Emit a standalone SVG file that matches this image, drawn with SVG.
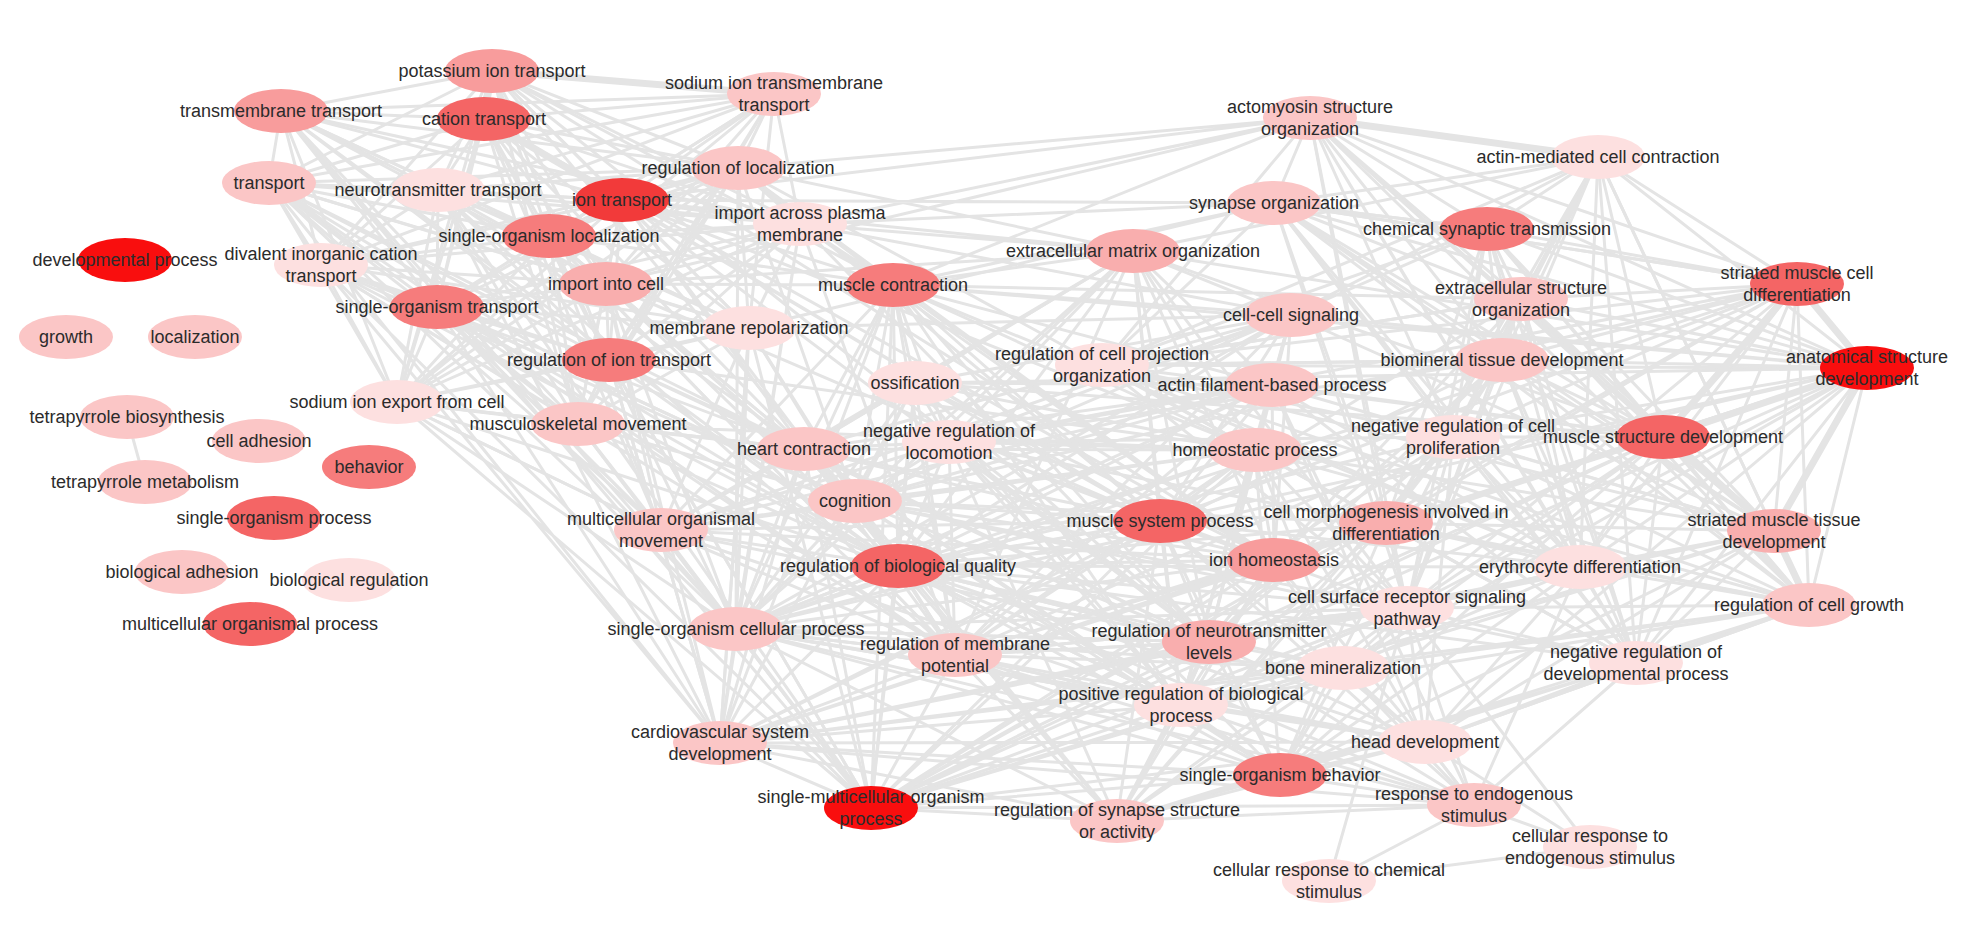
<svg xmlns="http://www.w3.org/2000/svg" width="1970" height="932" viewBox="0 0 1970 932">
<style>
.e{fill:none;stroke:#e4e4e4;stroke-width:3;stroke-linejoin:round;stroke-linecap:round}
.ew{fill:none;stroke:#e4e4e4;stroke-width:7;stroke-linecap:round}
text{font-family:"Liberation Sans",Arial,Helvetica,sans-serif;font-size:18px;fill:#2b2b2b;text-anchor:middle}
.t1{fill:#f90e0e}.t2{fill:#f23a3a}.t3{fill:#f46565}.t4{fill:#f67c7c}.t5{fill:#f89c9c}.t5b{fill:#f9aeae}.t6{fill:#fbc6c6}.t7{fill:#fde0e0}
</style>
<rect width="1970" height="932" fill="#ffffff"/>
<g id="edges">
<path class="e" d="M281 111 492 71 484 119 774 94 738 168 800 224 622 200 438 190 549 236 606 284 749 328 609 360 578 424 397 402 437 307 321 265 269 183 281 111"/>
<path class="e" d="M281 111 484 119 738 168 622 200 549 236 749 328 578 424 437 307 269 183 492 71 774 94 800 224 438 190 606 284 609 360 397 402 321 265 281 111"/>
<path class="e" d="M281 111 774 94 622 200 606 284 578 424 321 265 492 71 738 168 438 190 749 328 397 402 269 183 484 119 800 224 549 236 609 360 437 307 281 111"/>
<path class="e" d="M281 111 738 168 549 236 578 424 269 183 774 94 438 190 609 360 321 265 484 119 622 200 749 328 437 307 492 71 800 224 606 284 397 402 281 111"/>
<path class="e" d="M281 111 800 224 749 328 321 265 774 94 549 236 397 402 492 71 622 200 609 360 269 183 738 168 606 284 437 307 484 119 438 190 578 424 281 111"/>
<path class="e" d="M281 111 622 200 578 424 492 71 438 190 397 402 484 119 549 236 437 307 774 94 606 284 321 265 738 168 749 328 269 183 800 224 609 360 281 111"/>
<path class="e" d="M281 111 438 190 437 307 738 168 609 360 492 71 549 236 321 265 800 224 578 424 484 119 606 284 269 183 622 200 397 402 774 94 749 328 281 111"/>
<path class="e" d="M281 111 549 236 269 183 438 190 321 265 622 200 437 307 800 224 397 402 738 168 578 424 774 94 609 360 484 119 749 328 492 71 606 284 281 111"/>
<path class="e" d="M893 285 1133 251 1291 315 1272 385 1255 450 1274 560 1209 642 1181 705 955 655 736 629 661 530 804 449 915 383 949 442 855 501 898 566 1160 521 893 285"/>
<path class="e" d="M893 285 1291 315 1255 450 1209 642 955 655 661 530 915 383 855 501 1160 521 1133 251 1272 385 1274 560 1181 705 736 629 804 449 949 442 898 566 893 285"/>
<path class="e" d="M893 285 1272 385 1209 642 736 629 915 383 898 566 1133 251 1255 450 1181 705 661 530 949 442 1160 521 1291 315 1274 560 955 655 804 449 855 501 893 285"/>
<path class="e" d="M893 285 1255 450 955 655 915 383 1160 521 1272 385 1181 705 804 449 898 566 1291 315 1209 642 661 530 855 501 1133 251 1274 560 736 629 949 442 893 285"/>
<path class="e" d="M893 285 1274 560 661 530 898 566 1272 385 955 655 949 442 1133 251 1209 642 804 449 1160 521 1255 450 736 629 855 501 1291 315 1181 705 915 383 893 285"/>
<path class="e" d="M893 285 1209 642 915 383 1133 251 1181 705 949 442 1291 315 955 655 855 501 1272 385 736 629 898 566 1255 450 661 530 1160 521 1274 560 804 449 893 285"/>
<path class="e" d="M893 285 1181 705 855 501 1255 450 804 449 1133 251 955 655 898 566 1274 560 915 383 1291 315 736 629 1160 521 1209 642 949 442 1272 385 661 530 893 285"/>
<path class="e" d="M893 285 955 655 1160 521 1181 705 898 566 1209 642 855 501 1274 560 949 442 1255 450 915 383 1272 385 804 449 1291 315 661 530 1133 251 736 629 893 285"/>
<path class="e" d="M1310 118 1598 157 1487 229 1797 284 1867 368 1663 437 1774 531 1809 605 1636 663 1580 567 1407 608 1386 523 1453 437 1502 360 1521 299 1274 203 1102 365 1310 118"/>
<path class="e" d="M1310 118 1487 229 1867 368 1774 531 1636 663 1407 608 1453 437 1521 299 1102 365 1598 157 1797 284 1663 437 1809 605 1580 567 1386 523 1502 360 1274 203 1310 118"/>
<path class="e" d="M1310 118 1797 284 1774 531 1580 567 1453 437 1274 203 1598 157 1867 368 1809 605 1407 608 1502 360 1102 365 1487 229 1663 437 1636 663 1386 523 1521 299 1310 118"/>
<path class="e" d="M1310 118 1867 368 1636 663 1453 437 1102 365 1797 284 1809 605 1386 523 1274 203 1487 229 1774 531 1407 608 1521 299 1598 157 1663 437 1580 567 1502 360 1310 118"/>
<path class="e" d="M1310 118 1663 437 1407 608 1274 203 1797 284 1636 663 1502 360 1598 157 1774 531 1386 523 1102 365 1867 368 1580 567 1521 299 1487 229 1809 605 1453 437 1310 118"/>
<path class="e" d="M1310 118 1774 531 1453 437 1598 157 1809 605 1502 360 1487 229 1636 663 1521 299 1797 284 1580 567 1274 203 1867 368 1407 608 1102 365 1663 437 1386 523 1310 118"/>
<path class="e" d="M1310 118 1809 605 1521 299 1867 368 1386 523 1598 157 1636 663 1274 203 1663 437 1453 437 1487 229 1580 567 1102 365 1774 531 1502 360 1797 284 1407 608 1310 118"/>
<path class="e" d="M1310 118 1636 663 1102 365 1809 605 1274 203 1774 531 1521 299 1663 437 1502 360 1867 368 1453 437 1797 284 1386 523 1487 229 1407 608 1598 157 1580 567 1310 118"/>
<path class="e" d="M720 743 871 808 1117 821 1280 775 1425 742 1474 805 1343 668 1407 608 1209 642 1181 705 955 655 736 629 898 566 720 743"/>
<path class="e" d="M720 743 1117 821 1425 742 1343 668 1209 642 955 655 898 566 871 808 1280 775 1474 805 1407 608 1181 705 736 629 720 743"/>
<path class="e" d="M720 743 1280 775 1343 668 1181 705 898 566 1117 821 1474 805 1209 642 736 629 871 808 1425 742 1407 608 955 655 720 743"/>
<path class="e" d="M720 743 1425 742 1209 642 898 566 1280 775 1407 608 736 629 1117 821 1343 668 955 655 871 808 1474 805 1181 705 720 743"/>
<path class="e" d="M720 743 1474 805 955 655 1117 821 1407 608 898 566 1425 742 1181 705 871 808 1343 668 736 629 1280 775 1209 642 720 743"/>
<path class="e" d="M720 743 1343 668 898 566 1474 805 736 629 1425 742 955 655 1280 775 1181 705 1117 821 1209 642 871 808 1407 608 720 743"/>
<path class="e" d="M281 111 736 629 269 183 720 743 321 265 871 808 397 402 898 566 437 307 955 655 549 236 804 449 606 284 661 530 484 119 855 501 492 71 893 285 622 200 1160 521 738 168 1274 560 800 224 1209 642 609 360 1255 450 578 424 736 629 749 328 720 743 438 190 871 808 281 111 898 566 269 183 955 655 321 265 804 449 397 402 661 530 437 307 855 501 549 236 893 285 606 284 1160 521 484 119 1274 560 492 71 1209 642 622 200 1255 450 738 168 736 629 800 224 720 743 609 360 871 808 578 424 898 566 749 328 955 655 438 190 804 449"/>
<path class="e" d="M397 402 736 629 437 307 720 743 609 360 871 808 578 424 661 530 397 402 804 449 269 183 661 530 749 328 855 501 606 284 898 566 622 200 804 449 549 236 955 655 800 224 893 285 738 168 855 501 321 265 898 566 609 360 804 449 578 424 855 501 437 307 661 530 549 236 736 629 606 284 720 743 749 328 871 808"/>
<path class="e" d="M893 285 1867 368 915 383 1663 437 1272 385 1774 531 1255 450 1809 605 949 442 1797 284 855 501 1636 663 898 566 1580 567 1160 521 1521 299 1274 560 1502 360 1209 642 1453 437 955 655 1386 523 1181 705 1407 608 1133 251 1598 157 1291 315 1487 229 1274 203 1797 284 1160 521 1867 368 1274 560 1663 437 1209 642 1774 531 1181 705 1809 605 1255 450 1636 663 1272 385 1580 567 893 285 1521 299 1102 365 1502 360 949 442 1453 437 898 566 1386 523 855 501 1407 608 955 655 1663 437 1133 251 1867 368 1291 315 1774 531"/>
<path class="e" d="M720 743 1663 437 871 808 1797 284 736 629 1867 368 871 808 1774 531 720 743 1809 605 1117 821 1636 663 1280 775 1580 567 1425 742 1636 663 1474 805 1580 567 1343 668 1809 605 1425 742 1774 531 1280 775 1663 437 1343 668 1867 368 1425 742 1453 437 1280 775 1386 523 1117 821 1453 437 871 808 1386 523 720 743 1502 360"/>
<path class="e" d="M622 200 1310 118 800 224 1274 203 622 200 1133 251 738 168 1310 118 606 284 1133 251 800 224 1291 315 749 328 1274 203 893 285 1310 118"/>
<path class="e" d="M1117 821 949 442 1280 775 855 501 1117 821 804 449 1280 775 1255 450 1425 742 1272 385 1474 805 1160 521 1117 821 1274 560 871 808 1160 521 720 743 804 449 871 808 915 383 720 743 893 285 871 808 1255 450 1280 775 1160 521 1425 742 1274 560 1343 668 1255 450 1407 608 1160 521"/>
<path class="e" d="M1407 608 1329 881 1474 805 1590 847 1329 881 M1590 847 1407 608 M1474 805 1425 742 M1590 847 1425 742 M1425 742 1809 605 M127 417 145 482"/>
<path class="ew" d="M1310 118 1598 157 M492 71 484 119 M492 71 774 94 M484 119 622 200 M1797 284 1867 368 M1867 368 1663 437 M1663 437 1774 531 M1797 284 1663 437 M1867 368 1774 531 M1774 531 1809 605"/>
</g>
<g id="n-potassium"><ellipse class="t5" cx="492" cy="71" rx="47" ry="22"/><text x="492" y="77">potassium ion transport</text></g>
<g id="n-transmembrane"><ellipse class="t5" cx="281" cy="111" rx="47" ry="22"/><text x="281" y="117">transmembrane transport</text></g>
<g id="n-cation"><ellipse class="t3" cx="484" cy="119" rx="47" ry="22"/><text x="484" y="125">cation transport</text></g>
<g id="n-sodium-tm"><ellipse class="t6" cx="774" cy="94" rx="47" ry="22"/><text><tspan x="774" y="89">sodium ion transmembrane</tspan><tspan x="774" y="111">transport</tspan></text></g>
<g id="n-transport"><ellipse class="t6" cx="269" cy="183" rx="47" ry="22"/><text x="269" y="189">transport</text></g>
<g id="n-neurotransmitter"><ellipse class="t7" cx="438" cy="190" rx="47" ry="22"/><text x="438" y="196">neurotransmitter transport</text></g>
<g id="n-ion-transport"><ellipse class="t2" cx="622" cy="200" rx="47" ry="22"/><text x="622" y="206">ion transport</text></g>
<g id="n-reg-localization"><ellipse class="t6" cx="738" cy="168" rx="47" ry="22"/><text x="738" y="174">regulation of localization</text></g>
<g id="n-so-localization"><ellipse class="t4" cx="549" cy="236" rx="47" ry="22"/><text x="549" y="242">single-organism localization</text></g>
<g id="n-import-plasma"><ellipse class="t7" cx="800" cy="224" rx="47" ry="22"/><text><tspan x="800" y="219">import across plasma</tspan><tspan x="800" y="241">membrane</tspan></text></g>
<g id="n-developmental"><ellipse class="t1" cx="125" cy="260" rx="47" ry="22"/><text x="125" y="266">developmental process</text></g>
<g id="n-divalent"><ellipse class="t7" cx="321" cy="265" rx="47" ry="22"/><text><tspan x="321" y="260">divalent inorganic cation</tspan><tspan x="321" y="282">transport</tspan></text></g>
<g id="n-import-cell"><ellipse class="t5b" cx="606" cy="284" rx="47" ry="22"/><text x="606" y="290">import into cell</text></g>
<g id="n-muscle-contraction"><ellipse class="t4" cx="893" cy="285" rx="47" ry="22"/><text x="893" y="291">muscle contraction</text></g>
<g id="n-so-transport"><ellipse class="t4" cx="437" cy="307" rx="47" ry="22"/><text x="437" y="313">single-organism transport</text></g>
<g id="n-growth"><ellipse class="t6" cx="66" cy="337" rx="47" ry="22"/><text x="66" y="343">growth</text></g>
<g id="n-localization"><ellipse class="t6" cx="195" cy="337" rx="47" ry="22"/><text x="195" y="343">localization</text></g>
<g id="n-repolarization"><ellipse class="t7" cx="749" cy="328" rx="47" ry="22"/><text x="749" y="334">membrane repolarization</text></g>
<g id="n-reg-ion-transport"><ellipse class="t4" cx="609" cy="360" rx="47" ry="22"/><text x="609" y="366">regulation of ion transport</text></g>
<g id="n-sodium-export"><ellipse class="t7" cx="397" cy="402" rx="47" ry="22"/><text x="397" y="408">sodium ion export from cell</text></g>
<g id="n-ossification"><ellipse class="t7" cx="915" cy="383" rx="47" ry="22"/><text x="915" y="389">ossification</text></g>
<g id="n-reg-cell-projection"><ellipse class="t7" cx="1102" cy="365" rx="47" ry="22"/><text><tspan x="1102" y="360">regulation of cell projection</tspan><tspan x="1102" y="382">organization</tspan></text></g>
<g id="n-actin-filament"><ellipse class="t6" cx="1272" cy="385" rx="47" ry="22"/><text x="1272" y="391">actin filament-based process</text></g>
<g id="n-homeostatic"><ellipse class="t6" cx="1255" cy="450" rx="47" ry="22"/><text x="1255" y="456">homeostatic process</text></g>
<g id="n-tetra-bio"><ellipse class="t6" cx="127" cy="417" rx="47" ry="22"/><text x="127" y="423">tetrapyrrole biosynthesis</text></g>
<g id="n-cell-adhesion"><ellipse class="t6" cx="259" cy="441" rx="47" ry="22"/><text x="259" y="447">cell adhesion</text></g>
<g id="n-musculoskeletal"><ellipse class="t6" cx="578" cy="424" rx="47" ry="22"/><text x="578" y="430">musculoskeletal movement</text></g>
<g id="n-tetra-met"><ellipse class="t6" cx="145" cy="482" rx="47" ry="22"/><text x="145" y="488">tetrapyrrole metabolism</text></g>
<g id="n-behavior"><ellipse class="t4" cx="369" cy="467" rx="47" ry="22"/><text x="369" y="473">behavior</text></g>
<g id="n-so-process"><ellipse class="t3" cx="274" cy="518" rx="47" ry="22"/><text x="274" y="524">single-organism process</text></g>
<g id="n-mc-movement"><ellipse class="t6" cx="661" cy="530" rx="47" ry="22"/><text><tspan x="661" y="525">multicellular organismal</tspan><tspan x="661" y="547">movement</tspan></text></g>
<g id="n-bio-adhesion"><ellipse class="t6" cx="182" cy="572" rx="47" ry="22"/><text x="182" y="578">biological adhesion</text></g>
<g id="n-bio-regulation"><ellipse class="t7" cx="349" cy="580" rx="47" ry="22"/><text x="349" y="586">biological regulation</text></g>
<g id="n-mc-process"><ellipse class="t3" cx="250" cy="624" rx="47" ry="22"/><text x="250" y="630">multicellular organismal process</text></g>
<g id="n-heart"><ellipse class="t6" cx="804" cy="449" rx="47" ry="22"/><text x="804" y="455">heart contraction</text></g>
<g id="n-neg-locomotion"><ellipse class="t7" cx="949" cy="442" rx="47" ry="22"/><text><tspan x="949" y="437">negative regulation of</tspan><tspan x="949" y="459">locomotion</tspan></text></g>
<g id="n-cognition"><ellipse class="t6" cx="855" cy="501" rx="47" ry="22"/><text x="855" y="507">cognition</text></g>
<g id="n-reg-bio-quality"><ellipse class="t3" cx="898" cy="566" rx="47" ry="22"/><text x="898" y="572">regulation of biological quality</text></g>
<g id="n-muscle-system"><ellipse class="t3" cx="1160" cy="521" rx="47" ry="22"/><text x="1160" y="527">muscle system process</text></g>
<g id="n-ion-homeostasis"><ellipse class="t5" cx="1274" cy="560" rx="47" ry="22"/><text x="1274" y="566">ion homeostasis</text></g>
<g id="n-cell-morpho"><ellipse class="t5b" cx="1386" cy="523" rx="47" ry="22"/><text><tspan x="1386" y="518">cell morphogenesis involved in</tspan><tspan x="1386" y="540">differentiation</tspan></text></g>
<g id="n-cell-surface"><ellipse class="t7" cx="1407" cy="608" rx="47" ry="22"/><text><tspan x="1407" y="603">cell surface receptor signaling</tspan><tspan x="1407" y="625">pathway</tspan></text></g>
<g id="n-reg-neurotransmitter"><ellipse class="t5b" cx="1209" cy="642" rx="47" ry="22"/><text><tspan x="1209" y="637">regulation of neurotransmitter</tspan><tspan x="1209" y="659">levels</tspan></text></g>
<g id="n-bone-min"><ellipse class="t7" cx="1343" cy="668" rx="47" ry="22"/><text x="1343" y="674">bone mineralization</text></g>
<g id="n-so-cellular"><ellipse class="t6" cx="736" cy="629" rx="47" ry="22"/><text x="736" y="635">single-organism cellular process</text></g>
<g id="n-reg-membrane"><ellipse class="t6" cx="955" cy="655" rx="47" ry="22"/><text><tspan x="955" y="650">regulation of membrane</tspan><tspan x="955" y="672">potential</tspan></text></g>
<g id="n-pos-reg-bio"><ellipse class="t7" cx="1181" cy="705" rx="47" ry="22"/><text><tspan x="1181" y="700">positive regulation of biological</tspan><tspan x="1181" y="722">process</tspan></text></g>
<g id="n-cardiovascular"><ellipse class="t6" cx="720" cy="743" rx="47" ry="22"/><text><tspan x="720" y="738">cardiovascular system</tspan><tspan x="720" y="760">development</tspan></text></g>
<g id="n-single-multicellular"><ellipse class="t1" cx="871" cy="808" rx="47" ry="22"/><text><tspan x="871" y="803">single-multicellular organism</tspan><tspan x="871" y="825">process</tspan></text></g>
<g id="n-reg-synapse"><ellipse class="t6" cx="1117" cy="821" rx="47" ry="22"/><text><tspan x="1117" y="816">regulation of synapse structure</tspan><tspan x="1117" y="838">or activity</tspan></text></g>
<g id="n-head"><ellipse class="t7" cx="1425" cy="742" rx="47" ry="22"/><text x="1425" y="748">head development</text></g>
<g id="n-so-behavior"><ellipse class="t4" cx="1280" cy="775" rx="47" ry="22"/><text x="1280" y="781">single-organism behavior</text></g>
<g id="n-resp-endo"><ellipse class="t6" cx="1474" cy="805" rx="47" ry="22"/><text><tspan x="1474" y="800">response to endogenous</tspan><tspan x="1474" y="822">stimulus</tspan></text></g>
<g id="n-neg-dev"><ellipse class="t7" cx="1636" cy="663" rx="47" ry="22"/><text><tspan x="1636" y="658">negative regulation of</tspan><tspan x="1636" y="680">developmental process</tspan></text></g>
<g id="n-cell-resp-endo"><ellipse class="t7" cx="1590" cy="847" rx="47" ry="22"/><text><tspan x="1590" y="842">cellular response to</tspan><tspan x="1590" y="864">endogenous stimulus</tspan></text></g>
<g id="n-cell-resp-chem"><ellipse class="t7" cx="1329" cy="881" rx="47" ry="22"/><text><tspan x="1329" y="876">cellular response to chemical</tspan><tspan x="1329" y="898">stimulus</tspan></text></g>
<g id="n-actomyosin"><ellipse class="t6" cx="1310" cy="118" rx="47" ry="22"/><text><tspan x="1310" y="113">actomyosin structure</tspan><tspan x="1310" y="135">organization</tspan></text></g>
<g id="n-actin-mediated"><ellipse class="t7" cx="1598" cy="157" rx="47" ry="22"/><text x="1598" y="163">actin-mediated cell contraction</text></g>
<g id="n-synapse-org"><ellipse class="t6" cx="1274" cy="203" rx="47" ry="22"/><text x="1274" y="209">synapse organization</text></g>
<g id="n-chem-synaptic"><ellipse class="t4" cx="1487" cy="229" rx="47" ry="22"/><text x="1487" y="235">chemical synaptic transmission</text></g>
<g id="n-ecm"><ellipse class="t5b" cx="1133" cy="251" rx="47" ry="22"/><text x="1133" y="257">extracellular matrix organization</text></g>
<g id="n-striated-cell"><ellipse class="t3" cx="1797" cy="284" rx="47" ry="22"/><text><tspan x="1797" y="279">striated muscle cell</tspan><tspan x="1797" y="301">differentiation</tspan></text></g>
<g id="n-ext-structure"><ellipse class="t6" cx="1521" cy="299" rx="47" ry="22"/><text><tspan x="1521" y="294">extracellular structure</tspan><tspan x="1521" y="316">organization</tspan></text></g>
<g id="n-cell-cell"><ellipse class="t6" cx="1291" cy="315" rx="47" ry="22"/><text x="1291" y="321">cell-cell signaling</text></g>
<g id="n-biomineral"><ellipse class="t6" cx="1502" cy="360" rx="47" ry="22"/><text x="1502" y="366">biomineral tissue development</text></g>
<g id="n-anatomical"><ellipse class="t1" cx="1867" cy="368" rx="47" ry="22"/><text><tspan x="1867" y="363">anatomical structure</tspan><tspan x="1867" y="385">development</tspan></text></g>
<g id="n-neg-prolif"><ellipse class="t7" cx="1453" cy="437" rx="47" ry="22"/><text><tspan x="1453" y="432">negative regulation of cell</tspan><tspan x="1453" y="454">proliferation</tspan></text></g>
<g id="n-muscle-structure"><ellipse class="t3" cx="1663" cy="437" rx="47" ry="22"/><text x="1663" y="443">muscle structure development</text></g>
<g id="n-striated-tissue"><ellipse class="t5b" cx="1774" cy="531" rx="47" ry="22"/><text><tspan x="1774" y="526">striated muscle tissue</tspan><tspan x="1774" y="548">development</tspan></text></g>
<g id="n-erythrocyte"><ellipse class="t7" cx="1580" cy="567" rx="47" ry="22"/><text x="1580" y="573">erythrocyte differentiation</text></g>
<g id="n-reg-cell-growth"><ellipse class="t6" cx="1809" cy="605" rx="47" ry="22"/><text x="1809" y="611">regulation of cell growth</text></g>
</svg>
